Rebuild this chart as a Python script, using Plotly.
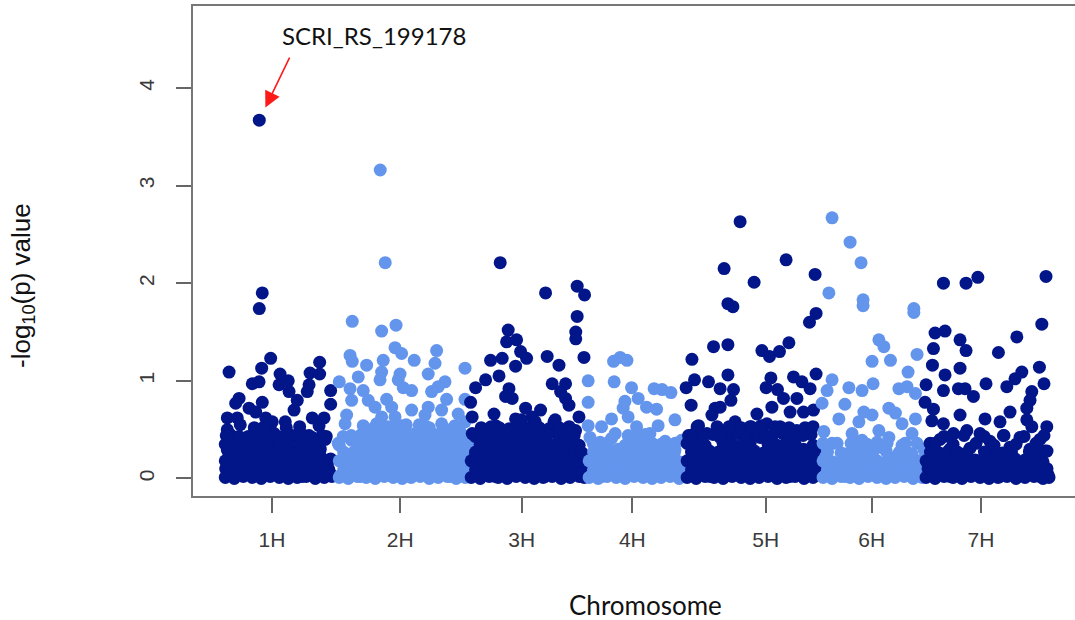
import plotly.graph_objects as go

# ---------------- data ----------------
chromosomes = ["1H", "2H", "3H", "4H", "5H", "6H", "7H"]
chrom_length_mb = [565, 670, 580, 500, 660, 535, 640]
# label (tick) position within each chromosome, Mb
label_pos_mb = [248, 325, 263, 236, 403, 273, 285]
colors = ["#02168A", "#6495ED", "#02168A", "#6495ED", "#02168A", "#6495ED", "#02168A"]

# individually visible SNPs
chr1_pos = [185, 200, 185, 34, 242, 197, 487, 289, 439, 487, 150, 184, 330, 284, 434, 542, 334, 425,
            84, 67, 375, 200, 542, 134, 359, 167, 25, 75, 217, 450, 509, 250, 484, 387, 25, 184, 242,
            334, 434, 59, 109, 150, 267, 25, 84, 192, 300, 367, 450, 542, 17, 67, 117, 167, 217, 267,
            317, 384, 434, 484, 525, 50, 134, 25, 50, 100, 150, 200, 250, 300, 350, 400, 450, 500, 540,
            200, 340, 490, 90, 315, 40, 215, 390, 515, 125, 290, 465]
chr1_logp = [3.67, 1.90, 1.74, 1.09, 1.23, 1.13, 1.19, 1.07, 1.08, 1.07, 0.97, 0.99, 1.00, 0.96, 0.96, 0.90, 0.89, 0.89,
             0.82, 0.77, 0.80, 0.78, 0.76, 0.72, 0.70, 0.68, 0.62, 0.62, 0.62, 0.62, 0.62, 0.58, 0.54, 0.53, 0.50, 0.49, 0.49,
             0.44, 0.44, 0.41, 0.39, 0.39, 0.37, 0.29, 0.30, 0.32, 0.32, 0.29, 0.27, 0.20, 0.10, 0.12, 0.15, 0.17, 0.13, 0.22,
             0.15, 0.17, 0.13, 0.17, 0.12, 0.22, 0.25, 0.06, 0.03, 0.05, 0.02, 0.04, 0.06, 0.03, 0.05, 0.02, 0.04, 0.03, 0.05,
             0.25, 0.20, 0.30, 0.55, 0.58, 0.36, 0.40, 0.38, 0.40, 0.08, 0.09, 0.08]

chr2_pos = [225, 250, 85, 232, 304, 299, 332, 507, 74, 85, 157, 240, 395, 499, 649, 232, 324, 465, 115, 224, 315,
            20, 549, 74, 140, 340, 382, 515, 482, 82, 165, 257, 557, 649, 199, 282, 382, 465, 532, 57, 232, 299,
            449, 615, 49, 140, 207, 265, 332, 449, 532, 599, 649, 15, 82, 132, 199, 249, 299, 365, 432, 482, 549,
            615, 665, 232, 399, 49, 99, 165, 215, 282, 349, 399, 465, 515, 582, 632, 25, 75, 125, 175, 225, 275,
            325, 375, 425, 475, 525, 575, 625, 660, 50, 150, 250, 350, 450, 550, 640]
chr2_logp = [3.16, 2.21, 1.61, 1.51, 1.57, 1.34, 1.28, 1.31, 1.26, 1.20, 1.16, 1.21, 1.21, 1.18, 1.13, 1.09, 1.07, 1.07, 1.04, 1.01, 1.01,
             0.99, 0.99, 0.92, 0.90, 0.93, 0.90, 0.94, 0.89, 0.80, 0.80, 0.81, 0.81, 0.81, 0.73, 0.73, 0.70, 0.73, 0.70, 0.65, 0.63, 0.63,
             0.65, 0.66, 0.56, 0.54, 0.56, 0.53, 0.54, 0.54, 0.56, 0.54, 0.58, 0.36, 0.39, 0.32, 0.39, 0.42, 0.36, 0.39, 0.39, 0.46, 0.39,
             0.42, 0.36, 0.48, 0.46, 0.22, 0.18, 0.22, 0.25, 0.22, 0.25, 0.22, 0.24, 0.22, 0.25, 0.22, 0.03, 0.05, 0.02, 0.04, 0.06, 0.03,
             0.05, 0.02, 0.04, 0.03, 0.05, 0.02, 0.04, 0.03, 0.12, 0.11, 0.13, 0.12, 0.11, 0.13, 0.12]

chr3_pos = [155, 382, 540, 577, 540, 533, 533, 574, 195, 187, 237, 257, 287, 232, 107, 165, 390, 449, 149, 82, 32,
            415, 482, 199, 457, 482, 499, 182, 215, 7, 282, 357, 124, 549, 15, 232, 315, 424, 132, 265, 332, 532,
            15, 465, 82, 182, 382, 215, 299, 432, 499, 115, 32, 565, 365, 165, 249, 465, 65, 315, 532,
            30, 80, 130, 180, 230, 280, 330, 380, 430, 480, 530, 570, 55, 155, 255, 355, 455, 555, 255, 405]
chr3_logp = [2.21, 1.90, 1.97, 1.88, 1.66, 1.50, 1.43, 1.24, 1.52, 1.40, 1.42, 1.30, 1.23, 1.15, 1.21, 1.23, 1.25, 1.16, 1.05, 1.01, 0.93,
             0.97, 0.97, 0.92, 0.89, 0.82, 0.75, 0.84, 0.82, 0.78, 0.72, 0.70, 0.66, 0.63, 0.63, 0.61, 0.63, 0.58, 0.54, 0.53, 0.49, 0.49,
             0.46, 0.46, 0.39, 0.42, 0.41, 0.32, 0.36, 0.32, 0.36, 0.29, 0.25, 0.25, 0.24, 0.18, 0.20, 0.18, 0.15, 0.13, 0.12,
             0.03, 0.05, 0.02, 0.04, 0.06, 0.03, 0.05, 0.02, 0.04, 0.03, 0.05, 0.03, 0.08, 0.09, 0.08, 0.10, 0.08, 0.09, 0.28, 0.27]

chr4_pos = [142, 175, 209, 15, 145, 232, 345, 385, 429, 265, 15, 199, 307, 357, 190, 132, 215, 449, 15, 82, 257,
            365, 24, 132, 215, 324, 482, 49, 165, 282, 382, 449, 99, 215, 332, 415,
            35, 85, 135, 185, 235, 285, 335, 385, 435, 475, 60, 160, 260, 360, 460, 75, 275, 400]
chr4_logp = [1.20, 1.24, 1.21, 1.00, 0.99, 0.93, 0.92, 0.91, 0.88, 0.82, 0.78, 0.79, 0.73, 0.71, 0.72, 0.61, 0.63, 0.60, 0.54, 0.53, 0.53,
             0.54, 0.42, 0.41, 0.44, 0.46, 0.39, 0.29, 0.30, 0.32, 0.30, 0.29, 0.18, 0.20, 0.18, 0.17,
             0.04, 0.02, 0.05, 0.03, 0.04, 0.02, 0.05, 0.03, 0.04, 0.03, 0.10, 0.09, 0.11, 0.10, 0.09, 0.37, 0.40, 0.38]

chr5_pos = [275, 195, 345, 505, 650, 214, 239, 655, 622, 142, 214, 34, 384, 422, 472, 519, 47, 5, 117, 175, 214,
            242, 429, 405, 462, 542, 584, 655, 625, 492, 559, 229, 30, 150, 175, 434, 359, 525, 592, 642, 134,
            250, 67, 325, 409, 475, 559, 17, 109, 175, 300, 375, 525, 625, 59, 142, 225, 309, 442, 509, 592, 659,
            25, 109, 192, 275, 359, 409, 475, 559, 625,
            25, 75, 125, 175, 225, 275, 325, 375, 425, 475, 525, 575, 625, 655, 50, 200, 325, 450, 575]
chr5_logp = [2.63, 2.15, 2.01, 2.24, 2.09, 1.79, 1.76, 1.69, 1.60, 1.35, 1.37, 1.22, 1.31, 1.25, 1.30, 1.39, 1.01, 0.93, 0.99, 0.92, 1.06,
             0.91, 1.03, 0.93, 0.91, 1.04, 0.99, 1.07, 0.92, 0.82, 0.82, 0.80, 0.75, 0.72, 0.73, 0.73, 0.66, 0.68, 0.68, 0.70, 0.65,
             0.58, 0.54, 0.53, 0.56, 0.53, 0.49, 0.44, 0.46, 0.42, 0.42, 0.42, 0.42, 0.46, 0.32, 0.25, 0.34, 0.29, 0.32, 0.27, 0.30, 0.25,
             0.17, 0.15, 0.17, 0.13, 0.18, 0.15, 0.17, 0.13, 0.17,
             0.03, 0.05, 0.02, 0.04, 0.03, 0.05, 0.02, 0.04, 0.03, 0.05, 0.02, 0.04, 0.03, 0.05, 0.09, 0.08, 0.10, 0.08, 0.09]

chr6_pos = [75, 165, 220, 59, 230, 230, 484, 484, 309, 334, 275, 367, 500, 455, 75, 280, 159, 225, 409, 450, 492,
            50, 25, 139, 234, 359, 392, 109, 275, 492, 209, 425, 34, 175, 309, 475, 75, 225, 359, 425, 534,
            42, 142, 275, 392, 475, 40, 90, 140, 190, 240, 290, 340, 390, 440, 490, 65, 165, 265, 365, 465, 190, 315]
chr6_logp = [2.67, 2.42, 2.21, 1.90, 1.83, 1.77, 1.74, 1.70, 1.42, 1.35, 1.20, 1.21, 1.27, 1.09, 1.01, 0.97, 0.93, 0.90, 0.92, 0.94, 0.87,
             0.90, 0.77, 0.76, 0.68, 0.72, 0.67, 0.61, 0.65, 0.61, 0.58, 0.56, 0.48, 0.46, 0.49, 0.46, 0.36, 0.39, 0.42, 0.34, 0.30,
             0.22, 0.25, 0.24, 0.22, 0.25, 0.03, 0.05, 0.02, 0.04, 0.03, 0.05, 0.02, 0.04, 0.03, 0.05, 0.12, 0.11, 0.13, 0.12, 0.10, 0.30, 0.32]

chr7_pos = [97, 210, 269, 610, 589, 464, 372, 55, 105, 47, 180, 210, 42, 180, 105, 310, 10, 577, 600, 489, 455,
            414, 97, 172, 205, 247, 5, 47, 39, 97, 180, 305, 430, 380, 539, 530, 514, 514, 614, 539, 397,
            147, 214, 280, 30, 130, 230, 330, 430, 530, 605, 55, 155, 255, 355, 455, 555,
            20, 105, 205, 305, 405, 505, 605, 30, 80, 130, 180, 230, 280, 330, 380, 430, 480, 530, 580, 620,
            80, 330, 480, 580]
chr7_logp = [2.00, 2.00, 2.06, 2.07, 1.58, 1.45, 1.29, 1.49, 1.51, 1.33, 1.42, 1.31, 1.16, 1.13, 1.06, 0.97, 0.96, 1.14, 0.97, 1.09, 1.02,
             0.94, 0.90, 0.92, 0.92, 0.84, 0.78, 0.71, 0.59, 0.56, 0.65, 0.61, 0.68, 0.58, 0.89, 0.80, 0.72, 0.60, 0.53, 0.53, 0.44,
             0.46, 0.49, 0.46, 0.36, 0.30, 0.31, 0.29, 0.32, 0.30, 0.28, 0.20, 0.22, 0.19, 0.21, 0.20, 0.22,
             0.10, 0.11, 0.09, 0.10, 0.12, 0.09, 0.11, 0.03, 0.05, 0.02, 0.04, 0.06, 0.03, 0.05, 0.02, 0.04, 0.03, 0.05, 0.02, 0.04,
             0.40, 0.38, 0.42, 0.40]

# densely packed low-significance SNPs (estimated from the solid band near 0)
chr1_bg_pos = [15, 60, 105, 150, 195, 240, 285, 330, 375, 420, 465, 510, 548,
               38, 83, 128, 173, 218, 263, 308, 353, 398, 443, 488, 533,
               15, 60, 105, 150, 195, 240, 285, 330, 375, 420, 465, 510,
               38, 83, 128, 173, 218, 263, 308, 353, 398, 443, 488,
               15, 60, 105, 150, 240, 285, 330, 420, 465,
               40, 83, 190, 260, 305, 400, 500,
               130, 230, 350, 450, 520, 20, 160, 210, 320]
chr1_bg_logp = [0.01, 0.00, 0.02, 0.01, 0.00, 0.02, 0.01, 0.00, 0.01, 0.02, 0.00, 0.01, 0.02,
                0.09, 0.08, 0.10, 0.09, 0.08, 0.10, 0.09, 0.08, 0.10, 0.09, 0.08, 0.09,
                0.18, 0.17, 0.19, 0.18, 0.17, 0.18, 0.19, 0.17, 0.18, 0.19, 0.17, 0.18,
                0.26, 0.27, 0.25, 0.26, 0.27, 0.28, 0.26, 0.25, 0.27, 0.26, 0.24,
                0.35, 0.34, 0.36, 0.35, 0.34, 0.36, 0.35, 0.34, 0.36,
                0.45, 0.43, 0.44, 0.46, 0.43, 0.45, 0.44,
                0.43, 0.42, 0.44, 0.42, 0.43, 0.44, 0.52, 0.53, 0.52]

chr2_bg_pos = [20, 65, 110, 155, 200, 245, 290, 335, 380, 425, 470, 515, 560, 605, 650,
               42, 87, 132, 177, 222, 267, 312, 357, 402, 447, 492, 537, 582, 627, 660,
               20, 65, 110, 155, 200, 245, 290, 335, 380, 425, 470, 515, 560, 605, 650,
               42, 87, 132, 177, 222, 267, 312, 357, 402, 447, 492, 537, 582, 627, 660,
               20, 110, 155, 200, 245, 290, 335, 380, 425, 470, 515, 560, 605, 650,
               175, 220, 265, 310, 355, 450, 495, 540, 585, 630,
               195, 240, 290, 470, 560, 620,
               400, 540, 600, 355, 420, 80, 130, 40]
chr2_bg_logp = [0.01, 0.00, 0.02, 0.01, 0.00, 0.02, 0.01, 0.00, 0.01, 0.02, 0.00, 0.01, 0.02, 0.00, 0.01,
                0.09, 0.08, 0.10, 0.09, 0.08, 0.10, 0.09, 0.08, 0.10, 0.09, 0.08, 0.10, 0.09, 0.08, 0.09,
                0.18, 0.17, 0.19, 0.18, 0.17, 0.18, 0.19, 0.17, 0.18, 0.19, 0.17, 0.18, 0.19, 0.17, 0.18,
                0.27, 0.26, 0.28, 0.26, 0.27, 0.25, 0.27, 0.28, 0.26, 0.27, 0.25, 0.27, 0.26, 0.28, 0.26,
                0.34, 0.35, 0.36, 0.34, 0.35, 0.36, 0.34, 0.35, 0.36, 0.34, 0.35, 0.36, 0.34, 0.35,
                0.44, 0.45, 0.43, 0.44, 0.46, 0.44, 0.45, 0.43, 0.44, 0.46,
                0.52, 0.50, 0.51, 0.52, 0.50, 0.51,
                0.45, 0.52, 0.53, 0.55, 0.55, 0.44, 0.45, 0.43]

chr3_bg_pos = [10, 55, 100, 145, 190, 235, 280, 325, 370, 415, 460, 505, 550, 575,
               32, 77, 122, 167, 212, 257, 302, 347, 392, 437, 482, 527, 565,
               10, 55, 100, 145, 190, 235, 280, 325, 370, 415, 460, 505, 550,
               32, 77, 122, 167, 212, 257, 302, 347, 392, 437, 482, 527, 565,
               55, 100, 145, 190, 235, 280, 325, 370, 415, 460, 505, 550,
               120, 165, 210, 255, 300, 345, 440, 485, 525,
               150, 200, 250, 290, 400, 500,
               75, 30, 390, 350, 450, 60, 110, 260, 330, 430]
chr3_bg_logp = [0.01, 0.00, 0.02, 0.01, 0.00, 0.02, 0.01, 0.00, 0.01, 0.02, 0.00, 0.01, 0.02, 0.01,
                0.09, 0.10, 0.08, 0.09, 0.10, 0.08, 0.09, 0.10, 0.08, 0.09, 0.10, 0.08, 0.09,
                0.18, 0.17, 0.19, 0.18, 0.17, 0.19, 0.18, 0.17, 0.19, 0.18, 0.17, 0.19, 0.18,
                0.27, 0.26, 0.28, 0.27, 0.26, 0.25, 0.27, 0.28, 0.26, 0.27, 0.25, 0.27, 0.26,
                0.35, 0.36, 0.34, 0.35, 0.36, 0.34, 0.35, 0.36, 0.34, 0.35, 0.36, 0.34,
                0.44, 0.45, 0.43, 0.44, 0.46, 0.44, 0.45, 0.43, 0.44,
                0.52, 0.51, 0.53, 0.52, 0.51, 0.53,
                0.44, 0.43, 0.45, 0.52, 0.52, 0.52, 0.53, 0.60, 0.58, 0.60]

chr4_bg_pos = [20, 65, 110, 155, 200, 245, 290, 335, 380, 425, 470,
               42, 87, 132, 177, 222, 267, 312, 357, 402, 447, 480,
               20, 65, 110, 155, 200, 245, 290, 335, 380, 425, 470,
               42, 87, 132, 177, 222, 267, 312, 357, 402, 447,
               65, 110, 200, 245, 335, 425,
               150, 250, 300,
               40, 290, 380, 450]
chr4_bg_logp = [0.01, 0.00, 0.02, 0.01, 0.00, 0.02, 0.01, 0.00, 0.01, 0.02, 0.00,
                0.09, 0.10, 0.08, 0.09, 0.10, 0.08, 0.09, 0.10, 0.08, 0.09, 0.10,
                0.18, 0.17, 0.19, 0.18, 0.17, 0.19, 0.18, 0.17, 0.19, 0.18, 0.17,
                0.27, 0.26, 0.28, 0.27, 0.26, 0.25, 0.27, 0.28, 0.26, 0.27,
                0.35, 0.36, 0.34, 0.35, 0.36, 0.34,
                0.46, 0.44, 0.45,
                0.36, 0.36, 0.35, 0.36]

chr5_bg_pos = [10, 55, 100, 145, 190, 235, 280, 325, 370, 415, 460, 505, 550, 595, 640,
               32, 77, 122, 167, 212, 257, 302, 347, 392, 437, 482, 527, 572, 617, 655,
               10, 55, 100, 145, 190, 235, 280, 325, 370, 415, 460, 505, 550, 595, 640,
               32, 77, 122, 167, 212, 257, 302, 347, 392, 437, 482, 527, 572, 617, 655,
               10, 55, 100, 190, 235, 280, 325, 415, 460, 505, 550, 640,
               140, 210, 260, 345, 400, 490, 590,
               160, 280, 380, 450, 600,
               40, 90, 180, 300, 440, 540, 630, 60, 220, 330, 520, 640]
chr5_bg_logp = [0.01, 0.00, 0.02, 0.01, 0.00, 0.02, 0.01, 0.00, 0.01, 0.02, 0.00, 0.01, 0.02, 0.00, 0.01,
                0.09, 0.10, 0.08, 0.09, 0.10, 0.08, 0.09, 0.10, 0.08, 0.09, 0.10, 0.08, 0.09, 0.10, 0.08,
                0.18, 0.17, 0.19, 0.18, 0.17, 0.19, 0.18, 0.17, 0.19, 0.18, 0.17, 0.19, 0.18, 0.17, 0.19,
                0.27, 0.26, 0.28, 0.27, 0.26, 0.25, 0.27, 0.28, 0.26, 0.27, 0.25, 0.27, 0.26, 0.28, 0.26,
                0.36, 0.35, 0.34, 0.36, 0.35, 0.34, 0.36, 0.35, 0.34, 0.36, 0.35, 0.34,
                0.45, 0.44, 0.46, 0.45, 0.44, 0.46, 0.44,
                0.53, 0.52, 0.54, 0.53, 0.52,
                0.45, 0.44, 0.45, 0.45, 0.45, 0.44, 0.45, 0.53, 0.53, 0.53, 0.52, 0.53]

chr6_bg_pos = [30, 75, 120, 165, 210, 255, 300, 345, 390, 435, 480, 525,
               52, 97, 142, 187, 232, 277, 322, 367, 412, 457, 502, 535,
               30, 75, 120, 165, 210, 255, 300, 345, 390, 435, 480, 525,
               52, 120, 187, 232, 277, 345, 412, 457,
               100, 250, 300, 440,
               30, 170, 350, 500]
chr6_bg_logp = [0.01, 0.00, 0.02, 0.01, 0.00, 0.02, 0.01, 0.00, 0.01, 0.02, 0.00, 0.01,
                0.09, 0.10, 0.08, 0.09, 0.10, 0.08, 0.09, 0.10, 0.08, 0.09, 0.10, 0.08,
                0.18, 0.17, 0.19, 0.18, 0.17, 0.19, 0.18, 0.17, 0.19, 0.18, 0.17, 0.19,
                0.27, 0.26, 0.28, 0.27, 0.26, 0.28, 0.27, 0.26,
                0.36, 0.35, 0.37, 0.36,
                0.36, 0.36, 0.36, 0.36]

chr7_bg_pos = [10, 55, 100, 145, 190, 235, 280, 325, 370, 415, 460, 505, 550, 595, 625,
               32, 77, 122, 167, 212, 257, 302, 347, 392, 437, 482, 527, 572, 615,
               10, 55, 100, 145, 190, 235, 280, 325, 370, 415, 460, 505, 550, 595,
               32, 77, 122, 167, 212, 302, 392, 437, 527, 572, 615,
               55, 145, 260, 350, 460, 560,
               100, 200, 300, 400, 500, 600]
chr7_bg_logp = [0.01, 0.00, 0.02, 0.01, 0.00, 0.02, 0.01, 0.00, 0.01, 0.02, 0.00, 0.01, 0.02, 0.00, 0.01,
                0.09, 0.10, 0.08, 0.09, 0.10, 0.08, 0.09, 0.10, 0.08, 0.09, 0.10, 0.08, 0.09, 0.10,
                0.18, 0.17, 0.19, 0.18, 0.17, 0.19, 0.18, 0.17, 0.19, 0.18, 0.17, 0.19, 0.18, 0.17,
                0.27, 0.26, 0.28, 0.27, 0.26, 0.27, 0.26, 0.27, 0.27, 0.26, 0.28,
                0.36, 0.35, 0.36, 0.34, 0.35, 0.36,
                0.43, 0.44, 0.43, 0.44, 0.43, 0.44]

positions = [chr1_pos + chr1_bg_pos, chr2_pos + chr2_bg_pos, chr3_pos + chr3_bg_pos, chr4_pos + chr4_bg_pos,
             chr5_pos + chr5_bg_pos, chr6_pos + chr6_bg_pos, chr7_pos + chr7_bg_pos]
logps = [chr1_logp + chr1_bg_logp, chr2_logp + chr2_bg_logp, chr3_logp + chr3_bg_logp, chr4_logp + chr4_bg_logp,
         chr5_logp + chr5_bg_logp, chr6_logp + chr6_bg_logp, chr7_logp + chr7_bg_logp]

highlight_chrom = 0
highlight_pos = 185
highlight_logp = 3.67
highlight_name = "SCRI_RS_199178"

# ---------------- figure ----------------
offsets = []
acc = 0
for L in chrom_length_mb:
    offsets.append(acc)
    acc += L

fig = go.Figure()
for i in range(len(chromosomes)):
    fig.add_trace(go.Scatter(
        x=[offsets[i] + p for p in positions[i]],
        y=logps[i],
        mode="markers",
        marker=dict(color=colors[i], size=13, line=dict(width=0)),
        name=chromosomes[i],
        hoverinfo="x+y",
    ))

tickvals = [offsets[i] + label_pos_mb[i] for i in range(len(chromosomes))]

axis_font = dict(family="Liberation Sans, Arial, sans-serif", size=21, color="#3a3a3a")
fig.update_layout(
    width=1075, height=620,
    margin=dict(l=193, r=0, t=6, b=124),
    plot_bgcolor="white", paper_bgcolor="white",
    showlegend=False,
    xaxis=dict(range=[-146.5, 4265], tickvals=tickvals, ticktext=chromosomes,
               ticks="outside", ticklen=15, tickwidth=1.5, tickcolor="#666666",
               showline=True, linecolor="#777777", linewidth=1.5, mirror=True,
               showgrid=False, zeroline=False, tickfont=axis_font, ticklabelstandoff=9),
    yaxis=dict(range=[-0.18, 4.84], tickvals=[0, 1, 2, 3, 4], tickangle=-90,
               ticks="outside", ticklen=15, tickwidth=1.5, tickcolor="#666666",
               showline=True, linecolor="#777777", linewidth=1.5, mirror=False,
               showgrid=False, zeroline=False, tickfont=axis_font, ticklabelstandoff=14),
)

fig.add_annotation(xref="paper", yref="paper", x=-0.1939, y=0.4306, xanchor="center", yanchor="middle",
                   text="-log<sub>10</sub>(p) value", textangle=-90, showarrow=False,
                   font=dict(family="Liberation Sans, Arial, sans-serif", size=26, color="#111111"))
fig.add_annotation(xref="paper", yref="paper", x=0.5125, y=-0.2224, xanchor="center", yanchor="middle",
                   text="Chromosome", showarrow=False,
                   font=dict(family="Lato, sans-serif", size=26, color="#111111"))
fig.add_annotation(xref="paper", yref="paper", x=0.2052, y=0.9408, xanchor="center", yanchor="middle",
                   text=highlight_name, showarrow=False,
                   font=dict(family="Lato, sans-serif", size=24, color="#111111"))
fig.add_annotation(xref="x", yref="y", x=offsets[highlight_chrom] + highlight_pos, y=highlight_logp,
                   text="", showarrow=True, ax=31, ay=-64, standoff=14,
                   arrowhead=2, arrowsize=2, arrowwidth=1.6, arrowcolor="#FF1A1A")

fig.write_html("out.html")
